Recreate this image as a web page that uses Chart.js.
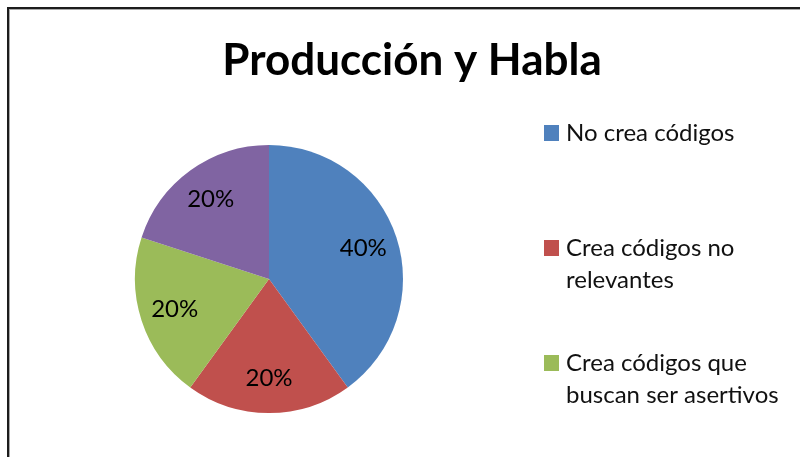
<!DOCTYPE html>
<html lang="es">
<head>
    <meta charset="UTF-8">
    <title>Producción y Habla</title>
    <style>
        body { margin: 0; padding: 0; background: #fff; overflow: hidden; }
        /* chart frame, only the top and left edges are visible */
        #frame {
            position: absolute; left: 7px; top: 7px; width: 820px; height: 480px;
            border-left: 2px solid #1c1c1c; border-top: 2px solid #1c1c1c;
            box-shadow: inset 1px 1px 0 #a8a8a8;
        }
        #chart { position: absolute; left: 0; top: 0; }
    </style>
    <script src="https://cdn.jsdelivr.net/npm/chart.js"></script>
</head>
<body>

<div id="frame"></div>
<canvas id="chart" width="800" height="457"></canvas>

<script>
    // data
    const chartTitle = 'Producción y Habla';
    const categories = [
        ['No crea códigos'],
        ['Crea códigos no', 'relevantes'],
        ['Crea códigos que', 'buscan ser asertivos'],
        ['Crea códigos asertivos']
    ];
    const percents = [40, 20, 20, 20];
    const sliceColors = ['#4F81BD', '#C0504D', '#9BBB59', '#8064A2'];

    const fontFamily = 'Lato, "Open Sans", sans-serif';

    // title, legend and slice labels drawn on top of the pie
    const officeLook = {
        id: 'officeLook',
        afterDatasetsDraw(chart) {
            const ctx = chart.ctx;
            const meta = chart.getDatasetMeta(0);
            const total = percents.reduce((a, b) => a + b, 0);

            ctx.save();
            ctx.fillStyle = '#000';

            // slice labels
            ctx.font = '24px ' + fontFamily;
            ctx.textAlign = 'center';
            ctx.textBaseline = 'middle';
            meta.data.forEach((arc, i) => {
                const p = arc.getProps(['x', 'y', 'startAngle', 'endAngle', 'outerRadius'], true);
                const mid = (p.startAngle + p.endAngle) / 2;
                const r = p.outerRadius * 0.74;
                const pct = Math.round(percents[i] / total * 100) + '%';
                ctx.fillText(pct, p.x + Math.cos(mid) * r, p.y + Math.sin(mid) * r);
            });

            // title
            ctx.font = 'bold 44px ' + fontFamily;
            ctx.textBaseline = 'alphabetic';
            ctx.fillText(chartTitle, 412, 75);

            // legend
            ctx.font = '24px ' + fontFamily;
            ctx.textAlign = 'left';
            categories.forEach((lines, i) => {
                const top = 125 + i * 115;
                ctx.fillStyle = sliceColors[i];
                ctx.fillRect(544, top, 15, 16);
                ctx.fillStyle = '#111';
                lines.forEach((line, j) => {
                    ctx.fillText(line, 566, top + 16 + j * 32);
                });
            });
            ctx.restore();
        }
    };

    new Chart(document.getElementById('chart'), {
        type: 'pie',
        data: {
            labels: categories,
            datasets: [{
                data: percents,
                backgroundColor: sliceColors,
                borderWidth: 0
            }]
        },
        options: {
            responsive: false,
            animation: false,
            // puts the pie at (269, 279) with a radius of 134
            layout: { padding: { left: 135, right: 397, top: 145, bottom: 44 } },
            plugins: {
                legend: { display: false },
                tooltip: { enabled: false }
            }
        },
        plugins: [officeLook]
    });
</script>

</body>
</html>
